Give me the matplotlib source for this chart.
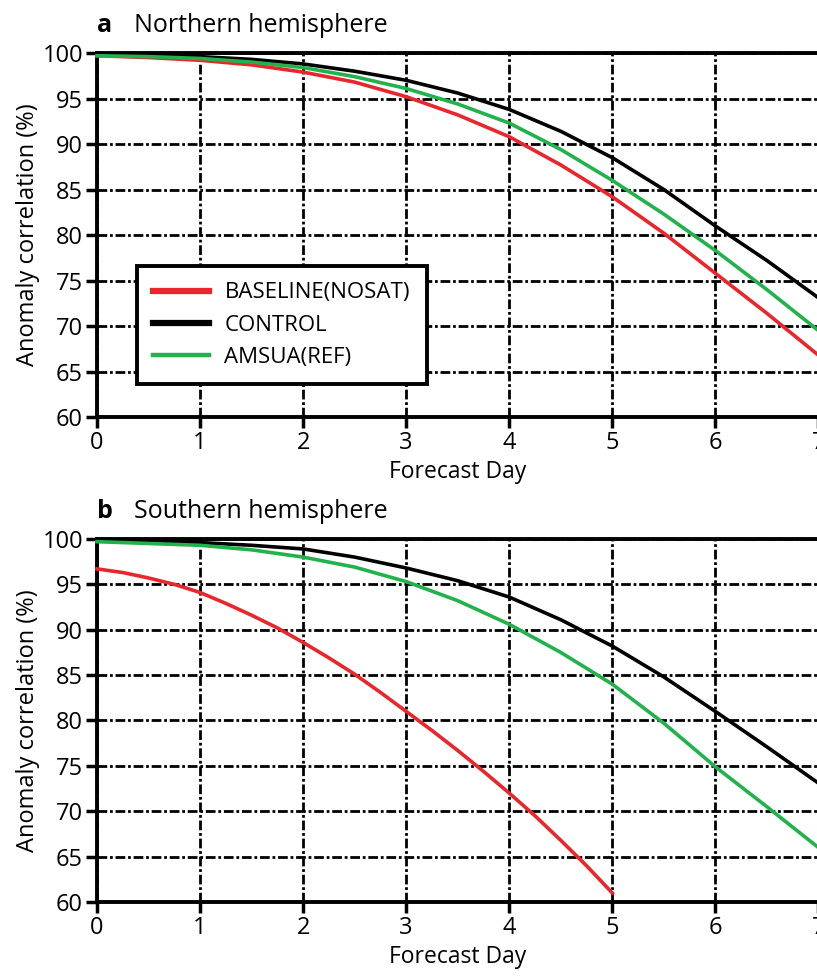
import matplotlib.pyplot as plt
import numpy as np

plt.rcParams['font.family'] = ['Open Sans', 'DejaVu Sans']

days = [0, 0.5, 1, 1.5, 2, 2.5, 3, 3.5, 4, 4.5, 5, 5.5, 6, 6.5, 7]

# Northern hemisphere
nh_baseline = [99.7, 99.5, 99.2, 98.7, 97.9, 96.8, 95.2, 93.2, 90.8, 87.7, 84.2, 80.2, 75.8, 71.4, 66.8]
nh_control = [99.8, 99.75, 99.6, 99.3, 98.8, 98.0, 97.0, 95.6, 93.8, 91.4, 88.5, 85.0, 81.0, 77.2, 73.1]
nh_amsua = [99.7, 99.6, 99.4, 99.0, 98.4, 97.4, 96.1, 94.4, 92.3, 89.4, 86.0, 82.3, 78.3, 74.0, 69.5]

# Southern hemisphere (baseline only runs to day 5)
sh_days_base = [0, 0.25, 0.5, 0.75, 1, 1.25, 1.5, 1.75, 2, 2.25, 2.5, 2.75, 3,
                3.25, 3.5, 3.75, 4, 4.25, 4.5, 4.75, 5]
sh_baseline = [96.7, 96.3, 95.7, 95.0, 94.1, 92.9, 91.6, 90.2, 88.6, 86.9, 85.1, 83.1, 81.0,
               78.9, 76.7, 74.4, 72.0, 69.5, 66.8, 64.0, 61.0]
sh_control = [99.8, 99.7, 99.6, 99.3, 98.9, 98.0, 96.8, 95.4, 93.6, 91.1, 88.2, 84.8, 81.0, 77.1, 73.1]
sh_amsua = [99.7, 99.5, 99.3, 98.8, 98.0, 96.9, 95.3, 93.2, 90.6, 87.5, 84.0, 79.7, 74.9, 70.5, 66.0]

labels = ["BASELINE(NOSAT)", "CONTROL", "AMSUA(REF)"]
red = "#e8262b"
green = "#22b24c"

fig = plt.figure(figsize=(8.17, 9.76), dpi=100)
ax_a = fig.add_axes([0.1187, 0.5727, 0.883, 0.373])
ax_b = fig.add_axes([0.1187, 0.0758, 0.883, 0.372])


def style(ax, letter, title):
    ax.set_xlim(0, 7)
    ax.set_ylim(60, 100)
    ax.set_xticks(range(0, 8))
    ax.set_yticks(range(60, 101, 5))
    ax.grid(True, color="black", linestyle=(0, (3.5, 1.0, 1.0, 1.0)), linewidth=2.0)
    ax.set_axisbelow(True)
    for s in ax.spines.values():
        s.set_linewidth(2.8)
    ax.tick_params(direction="out", length=8, width=2.5, labelsize=17, pad=2)
    ax.set_xlabel("Forecast Day", fontsize=16.5, labelpad=4)
    ax.set_ylabel("Anomaly correlation (%)", fontsize=17, labelpad=2)
    ax.text(0.0, 1.04, letter, transform=ax.transAxes, fontsize=18,
            fontweight="bold", va="bottom", ha="left")
    ax.text(0.052, 1.04, title, transform=ax.transAxes, fontsize=18,
            va="bottom", ha="left")


style(ax_a, "a", "Northern hemisphere")
ax_a.plot(days, nh_baseline, color=red, lw=2.6, label=labels[0], clip_on=False, zorder=3)
ax_a.plot(days, nh_control, color="black", lw=2.6, label=labels[1], clip_on=False, zorder=3)
ax_a.plot(days, nh_amsua, color=green, lw=2.6, label=labels[2], clip_on=False, zorder=3)

leg = ax_a.legend(loc="lower left", bbox_to_anchor=(0.055, 0.09), fontsize=16,
                  fancybox=False, framealpha=1, edgecolor="black",
                  handlelength=2.5, handletextpad=0.7, borderpad=0.75,
                  labelspacing=0.5, borderaxespad=0)
leg.get_frame().set_linewidth(2.8)
widths = [4.5, 4.5, 3.2]
for h, w in zip(leg.get_lines(), widths):
    h.set_linewidth(w)

style(ax_b, "b", "Southern hemisphere")
ax_b.plot(sh_days_base, sh_baseline, color=red, lw=2.6, clip_on=False, zorder=3)
ax_b.plot(days, sh_control, color="black", lw=2.6, clip_on=False, zorder=3)
ax_b.plot(days, sh_amsua, color=green, lw=2.6, clip_on=False, zorder=3)

fig.savefig("out.png", dpi=100)
